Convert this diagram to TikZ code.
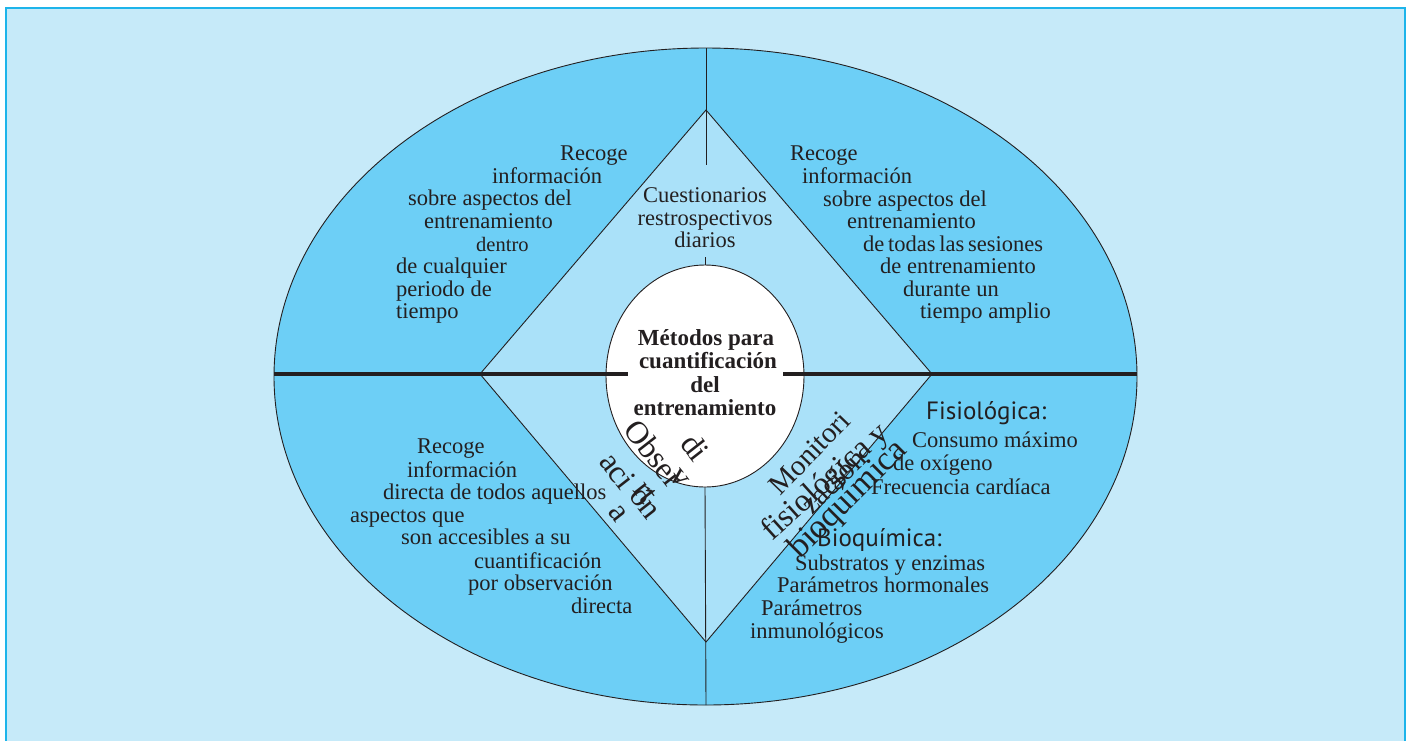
\documentclass[tikz,border=0pt]{standalone}
\usepackage{fontspec}
\setmainfont{Liberation Serif}
\newfontfamily\sansfam{PT Sans}
\definecolor{bgc}{HTML}{C6EAF9}
\definecolor{bordc}{HTML}{1DB4EA}
\definecolor{ellc}{HTML}{6DCFF6}
\definecolor{diac}{HTML}{AAE1F9}
\definecolor{ink}{HTML}{231F20}
\begin{document}
\begin{tikzpicture}[x=1pt,y=-1pt,
 txt/.style={anchor=base west, inner sep=0pt, text=ink, font=\fontsize{22.5}{23}\selectfont},
 smtxt/.style={anchor=base west, inner sep=0pt, text=ink, font=\fontsize{20.5}{21}\selectfont},
 ctxt/.style={anchor=base, inner sep=0pt, text=ink, font=\fontsize{22.5}{23}\selectfont},
 btxt/.style={anchor=base, inner sep=0pt, text=ink, font=\fontsize{23}{23}\bfseries\selectfont},
 stxt/.style={anchor=base west, inner sep=0pt, text=ink, font=\fontsize{25}{25}\sansfam\selectfont},
 rtxt/.style={anchor=base west, inner sep=0pt, text=ink, font=\fontsize{32}{32}\selectfont},
 thinln/.style={draw=ink, line width=0.9pt},
 thickln/.style={draw=ink, line width=3.2pt}]
\useasboundingbox (0,0) rectangle (1410,740);
% background panel
\fill[bgc] (6,8) rectangle (1405,760);
\draw[bordc, line width=2pt] (6,760) -- (6,8) -- (1405,8) -- (1405,760);
% key points
\coordinate (eT) at (706,48);
\coordinate (eB) at (706,705);
\coordinate (eL) at (274,374);
\coordinate (eR) at (1137,374);
\coordinate (dT) at (706,110);
\coordinate (dL) at (480,374);
\coordinate (dR) at (932,374);
\coordinate (dB) at (706,642);
\coordinate (cT) at (705,265);
\coordinate (cB) at (705,487);
\coordinate (hL) at (628,374);
\coordinate (hR) at (783,374);
\coordinate (vA) at (706,165);
\coordinate (tk) at (705,257);
% shapes
\path[fill=ellc, thinln] (705.5,376.5) ellipse [x radius=431.5pt, y radius=328.5pt];
\path[fill=diac, thinln] (dT) -- (dR) -- (dB) -- (dL) -- cycle;
\draw[thinln] (eT) -- (vA);
\draw[thinln] (cB) -- (eB);
\path[fill=white, thinln] (705,376) ellipse [x radius=99pt, y radius=111pt];
\draw[thinln] (tk) -- (cT);
\draw[thickln] (eL) -- (hL);
\draw[thickln] (hR) -- (eR);
% centre
\node[btxt] (m1) at (706,345) {Métodos para};
\node[btxt] (m2) at (708,368) {cuantificación};
\node[btxt] (m3) at (705,392) {del};
\node[btxt] (m4) at (705,415) {entrenamiento};
% cuestionarios
\node[ctxt] (q1) at (705,202) {Cuestionarios};
\node[ctxt] (q2) at (705,225) {restrospectivos};
\node[ctxt] (q3) at (705,247) {diarios};
% top-left
\node[txt] (a1) at (560,160) {Recoge};
\node[txt] (a2) at (492,183) {información};
\node[txt] (a3) at (408,205) {sobre aspectos del};
\node[txt] (a4) at (424,228) {entrenamiento};
\node[smtxt] (a5) at (476,251) {dentro};
\node[txt] (a6) at (396,273) {de cualquier};
\node[txt] (a7) at (396,296) {periodo de};
\node[txt] (a8) at (396,318) {tiempo};
% top-right
\node[txt] (b1) at (790,160) {Recoge};
\node[txt] (b2) at (802,183) {información};
\node[txt] (b3) at (823,206) {sobre aspectos del};
\node[txt] (b4) at (847,228) {entrenamiento};
\node[txt] (b5) at (863,251) {de\,todas\,las\,sesiones};
\node[txt] (b6) at (880,273) {de entrenamiento};
\node[txt] (b7) at (903,296) {durante un};
\node[txt] (b8) at (920,318) {tiempo amplio};
% bottom-left
\node[txt] (c1) at (417,453) {Recoge};
\node[txt] (c2) at (407,477) {información};
\node[txt] (c3) at (383,499) {directa de todos aquellos};
\node[txt] (c4) at (350,522) {aspectos que};
\node[txt] (c5) at (401,544) {son accesibles a su};
\node[txt] (c6) at (474,568) {cuantificación};
\node[txt] (c7) at (468,590) {por observación};
\node[txt] (c8) at (571,613) {directa};
% bottom-right
\node[stxt] (d1) at (926,419) {Fisiológica:};
\node[txt] (d2) at (912,447) {Consumo máximo};
\node[txt] (d3) at (893,470) {de oxígeno};
\node[txt] (d4) at (871,494) {Frecuencia cardíaca};
\node[stxt] (d5) at (817,546) {Bioquímica:};
\node[txt] (d6) at (795,570) {Substratos y enzimas};
\node[txt] (d7) at (777,592) {Parámetros hormonales};
\node[txt] (d8) at (761,615) {Parámetros};
\node[txt] (d9) at (750,638) {inmunológicos};
% rotated: observación directa
\node[rtxt, rotate=-52] (o1) at (622,430) {Obser};
\node[rtxt, rotate=-52] (o2) at (668,476) {v};
\node[rtxt, rotate=-52] (o3) at (679,444) {di};
\node[rtxt, rotate=-52] (o4) at (598,462) {aci};
\node[rtxt, rotate=-52] (o5) at (628,496) {ón};
\node[rtxt, rotate=-52] (o6) at (632,490) {rt};
\node[rtxt, rotate=-52] (o7) at (607,512) {a};
% rotated: monitorizacion
\node[rtxt, rotate=46, font=\fontsize{29}{29}\selectfont] (n1) at (780,497) {Monitori};
\node[rtxt, rotate=42] (n2) at (772,542) {fisiológica y};
\node[rtxt, rotate=44, font=\fontsize{30}{30}\selectfont] (n3) at (812,516) {zación};
\node[rtxt, rotate=45, font=\fontsize{34}{34}\selectfont] (n4) at (800,560) {bioquímica};
\end{tikzpicture}
\end{document}
